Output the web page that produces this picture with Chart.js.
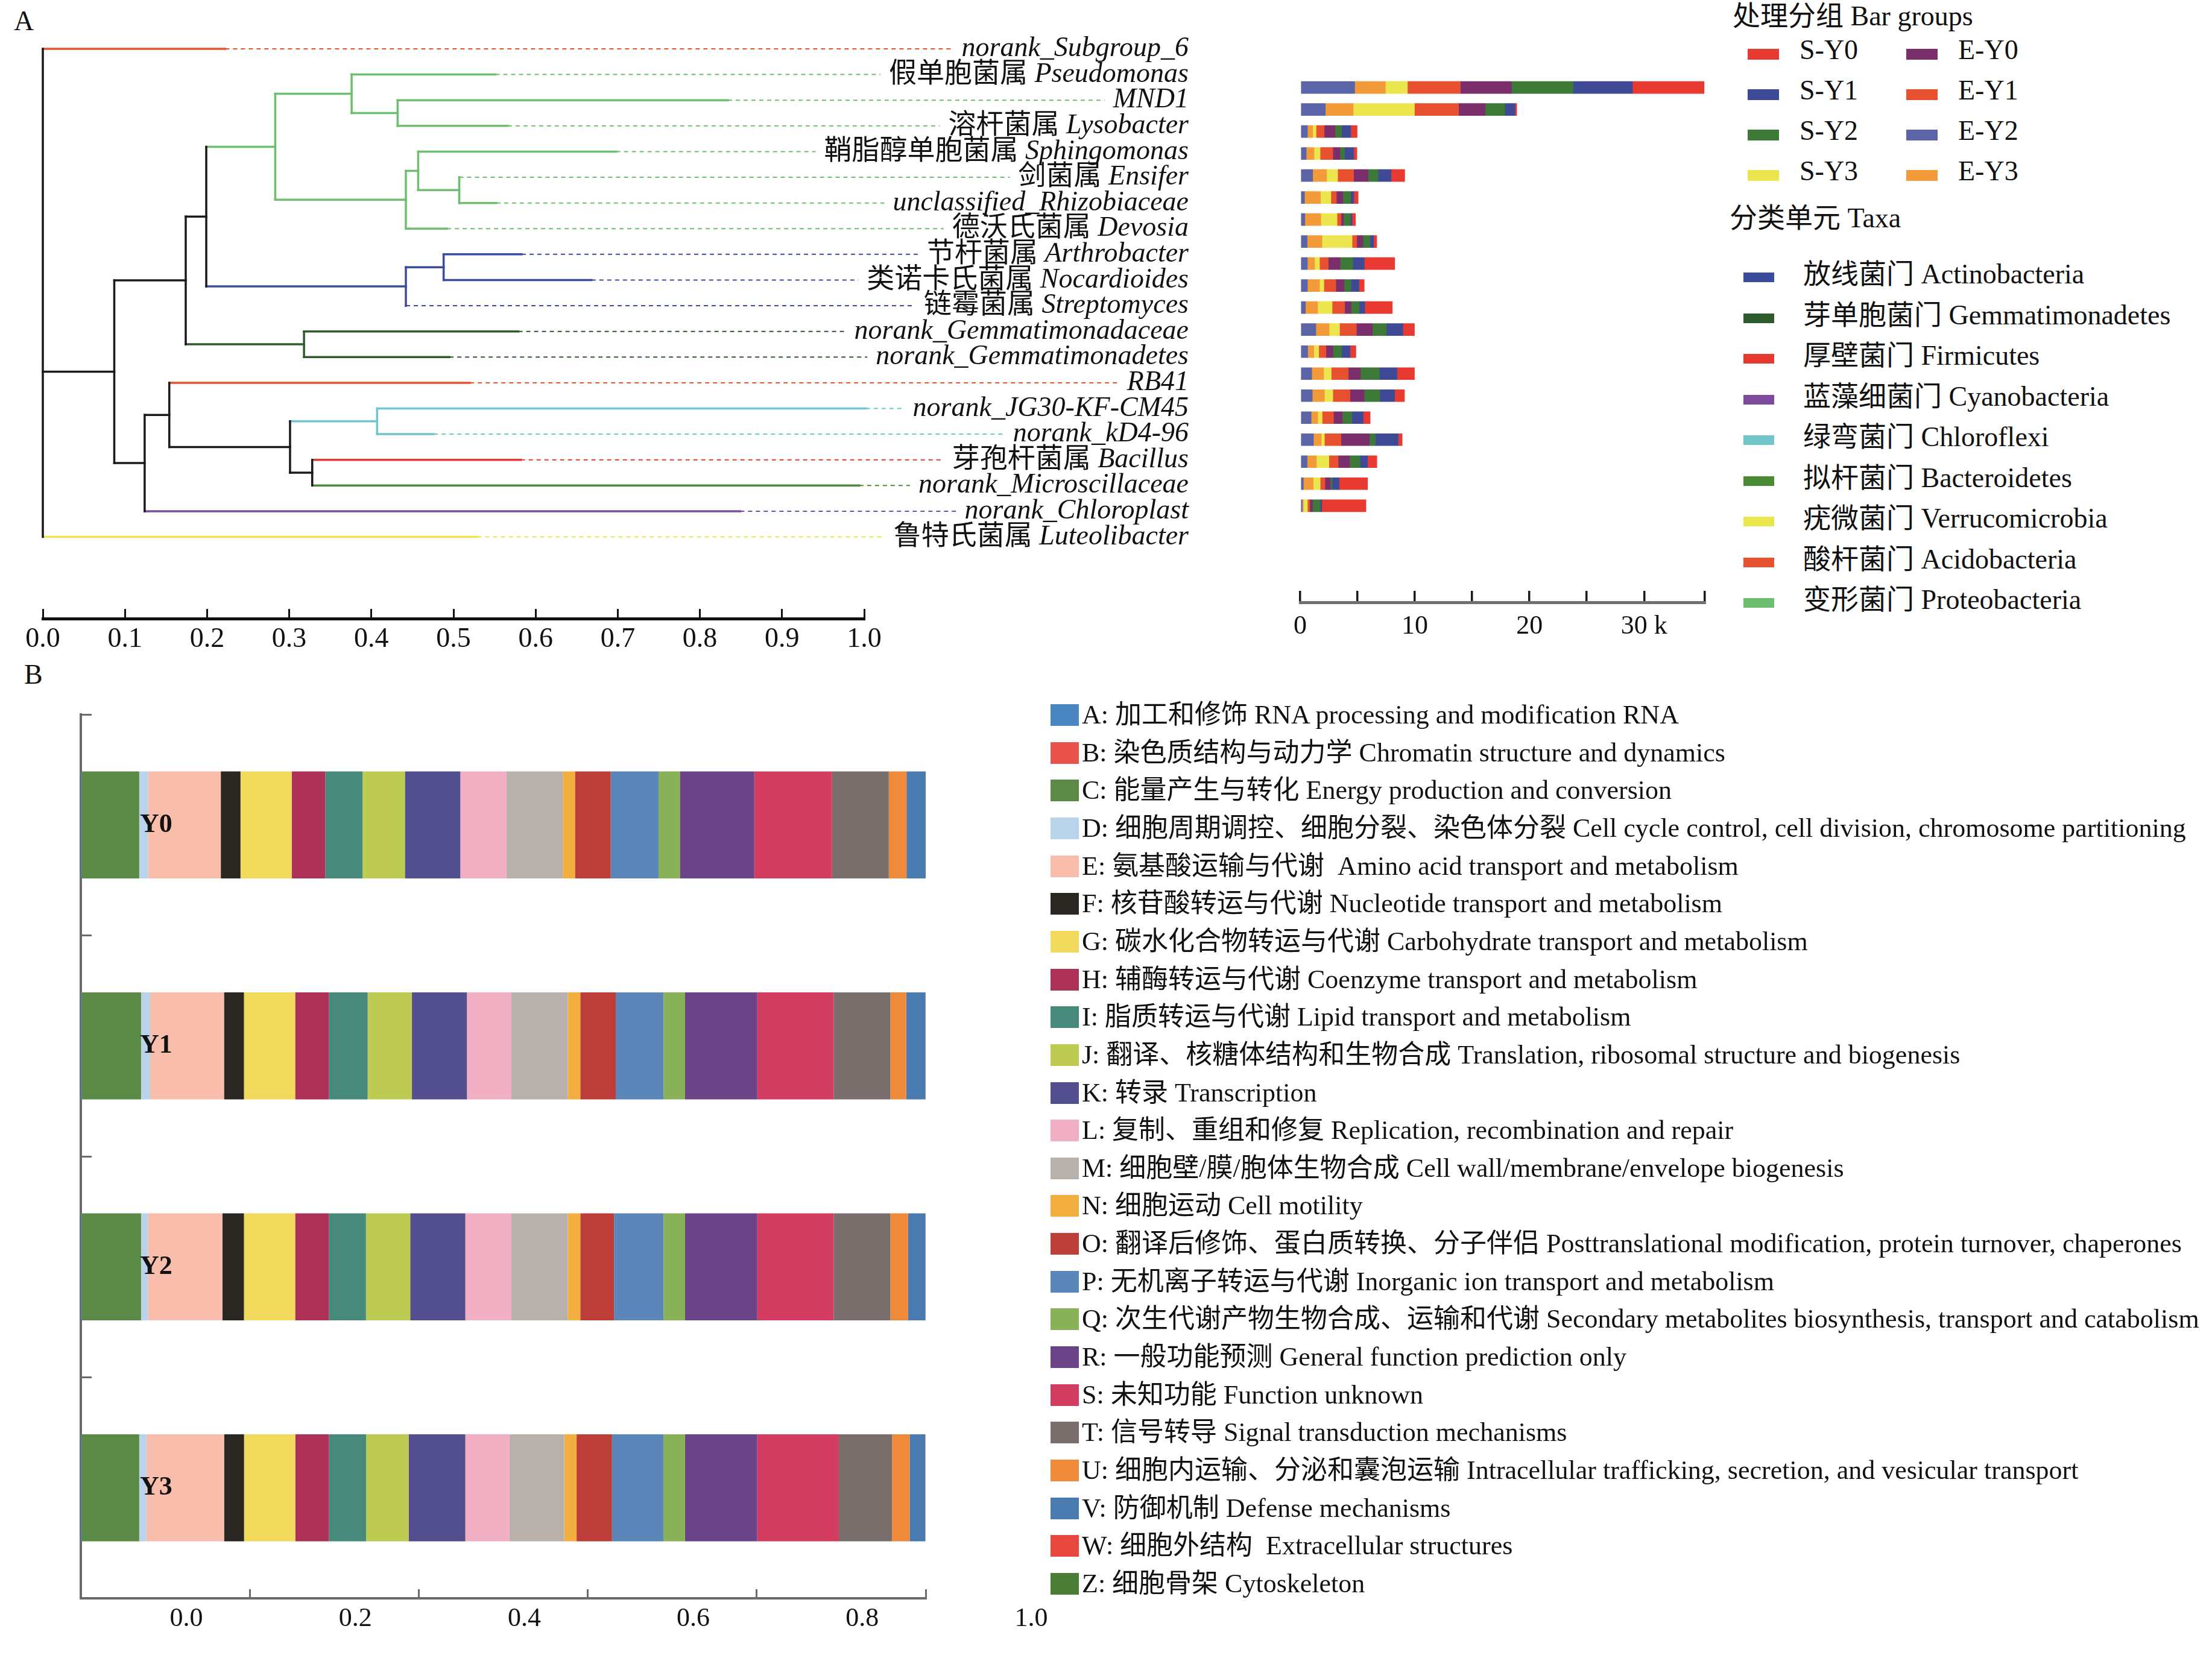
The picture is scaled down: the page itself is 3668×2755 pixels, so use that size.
<!DOCTYPE html>
<html lang="zh">
<head>
<meta charset="utf-8">
<title>Dendrogram, abundance and COG chart</title>
<script src="https://cdn.jsdelivr.net/npm/chart.js@4.4.1/dist/chart.umd.min.js"></script>
<style>
  html, body { margin: 0; padding: 0; background: #fff; }
  body { position: relative; width: 3668px; height: 2755px; overflow: hidden;
         font-family: "Liberation Serif", "Noto Sans CJK SC", serif; color: #111; }
  .box { position: absolute; }
  .tag { position: absolute; font-size: 46px; line-height: 1; }
  .row { position: absolute; display: flex; align-items: center; height: 50px; line-height: 50px; white-space: pre; }
  .row .sw { display: inline-block; flex: none; position: relative; }
  .title { position: absolute; height: 50px; line-height: 50px; white-space: pre; font-size: 46px; }
</style>
</head>
<body>
<div class="tag" style="left:23px;top:12px">A</div>
<div class="tag" style="left:40px;top:1096px">B</div>
<div class="box" style="left:0;top:0;width:2000px;height:1100px"><canvas id="dendro"></canvas></div>
<div class="box" style="left:2100px;top:0;width:760px;height:1100px"><canvas id="abund"></canvas></div>
<div class="box" style="left:0;top:1100px;width:1800px;height:1655px"><canvas id="cog"></canvas></div>
<div id="legendTop"></div>
<div id="legendCog"></div>
<script>
// leaves of the tree (top to bottom)
const leafCn = ['', '假单胞菌属', '', '溶杆菌属', '鞘脂醇单胞菌属', '剑菌属', '', '德沃氏菌属', '节杆菌属', '类诺卡氏菌属',
  '链霉菌属', '', '', '', '', '', '芽孢杆菌属', '', '', '鲁特氏菌属'];
const leafLatin = ['norank_Subgroup_6', 'Pseudomonas', 'MND1', 'Lysobacter', 'Sphingomonas', 'Ensifer',
  'unclassified_Rhizobiaceae', 'Devosia', 'Arthrobacter', 'Nocardioides', 'Streptomyces', 'norank_Gemmatimonadaceae',
  'norank_Gemmatimonadetes', 'RB41', 'norank_JG30-KF-CM45', 'norank_kD4-96', 'Bacillus', 'norank_Microscillaceae',
  'norank_Chloroplast', 'Luteolibacter'];
const leafPhylum = [7, 8, 8, 8, 8, 8, 8, 8, 0, 0, 0, 1, 1, 7, 4, 4, 2, 5, 3, 6];
const leafDist = [0.222, 0.551, 0.834, 0.566, 0.698, 0.507, 0.552, 0.492, 0.583, 0.668,
  0.442, 0.579, 0.495, 0.520, 1.002, 0.476, 0.582, 0.994, 0.849, 0.529];

// internal nodes of the tree
const nodeIds = ['root', 'n1', 'n2', 'n3', 'n4', 'n5', 'n6', 'n7', 'n8', 'n9', 'n10', 'n11', 'n12', 'n13', 'n14', 'n15', 'n16', 'n17'];
const nodeDist = [0.000, 0.087, 0.174, 0.124, 0.199, 0.318, 0.283, 0.442, 0.376, 0.442, 0.432, 0.457, 0.507, 0.488, 0.154, 0.301, 0.407, 0.328];
const nodeKids = [[0, 'n1', 19], ['n2', 'n3'], ['n4', 'n5'], ['n14', 18], ['n6', 'n7'], [11, 12], ['n8', 'n9'], ['n13', 10],
  [1, 'n10'], ['n11', 7], [2, 3], [4, 'n12'], [5, 6], [8, 9], [13, 'n15'], ['n16', 'n17'], [14, 15], [16, 17]];
const distTicks = [0, 0.1, 0.2, 0.3, 0.4, 0.5, 0.6, 0.7, 0.8, 0.9, 1.0];

const taxaCn = ['放线菌门', '芽单胞菌门', '厚壁菌门', '蓝藻细菌门', '绿弯菌门', '拟杆菌门', '疣微菌门', '酸杆菌门', '变形菌门'];
const taxaEn = ['Actinobacteria', 'Gemmatimonadetes', 'Firmicutes', 'Cyanobacteria', 'Chloroflexi', 'Bacteroidetes',
  'Verrucomicrobia', 'Acidobacteria', 'Proteobacteria'];
const taxaColors = ['#3c4c9c', '#2f5a2b', '#e63a30', '#7d4a9e', '#70c6cb', '#4d8a35', '#e9e74b', '#e8532f', '#6dbf6f'];

// abundance per bar group (thousands of reads), one value per leaf
const groups = ['S-Y0', 'S-Y1', 'S-Y2', 'S-Y3', 'E-Y0', 'E-Y1', 'E-Y2', 'E-Y3'];
const groupColors = ['#e83a30', '#3f4a96', '#3e7a37', '#ebe64d', '#7b2e6c', '#e8512f', '#5b64a6', '#f39b3b'];
const stackOrder = ['E-Y2', 'E-Y3', 'S-Y3', 'E-Y1', 'E-Y0', 'S-Y2', 'S-Y1', 'S-Y0'];
const countsSY0 = [6.25, 0.15, 0.56, 0.28, 1.19, 0.38, 0.30, 0.28, 2.66, 0.46, 2.41, 1.01, 0.51, 1.52, 0.86, 0.61, 0.35, 0.81, 2.48, 3.85];
const countsSY1 = [5.19, 0.89, 0.81, 0.81, 1.14, 0.28, 0.15, 0.30, 1.01, 0.71, 0.48, 1.44, 0.73, 1.54, 1.29, 0.99, 2.00, 0.66, 0.61, 0.15];
const countsSY2 = [5.37, 1.70, 0.56, 0.38, 0.86, 0.68, 0.61, 0.63, 1.09, 0.58, 0.71, 1.22, 0.76, 1.65, 1.37, 0.84, 0.51, 0.91, 0.15, 0.66];
const countsSY3 = [1.92, 5.34, 0.30, 0.53, 0.96, 0.91, 1.42, 2.63, 0.43, 0.38, 1.27, 0.91, 0.43, 0.66, 0.73, 0.38, 0.28, 1.09, 0.61, 0.35];
const countsEY0 = [4.46, 2.33, 0.94, 0.63, 1.27, 0.56, 0.20, 0.53, 1.04, 0.73, 0.56, 1.39, 0.61, 1.06, 1.24, 0.76, 2.48, 0.99, 0.48, 0.25];
const countsEY1 = [4.61, 3.85, 0.71, 1.11, 1.39, 0.48, 0.35, 0.41, 0.76, 1.04, 1.09, 1.47, 0.63, 1.49, 1.49, 0.99, 1.44, 0.81, 0.41, 0.20];
const countsEY2 = [4.76, 2.20, 0.63, 0.53, 1.09, 0.38, 0.41, 0.61, 0.63, 0.63, 0.46, 1.37, 0.66, 1.01, 1.06, 0.96, 1.16, 0.61, 0.28, 0.18];
const countsEY3 = [2.68, 2.43, 0.46, 0.68, 1.22, 1.39, 1.39, 1.29, 0.63, 1.06, 1.06, 1.16, 0.53, 1.04, 1.06, 0.58, 0.68, 0.81, 0.86, 0.10];
const groupCounts = [countsSY0, countsSY1, countsSY2, countsSY3, countsEY0, countsEY1, countsEY2, countsEY3];

// COG functional categories, share of each year
const years = ['Y0', 'Y1', 'Y2', 'Y3'];
const cogCodes = ['A', 'B', 'C', 'D', 'E', 'F', 'G', 'H', 'I', 'J', 'K', 'L', 'M', 'N', 'O', 'P', 'Q', 'R', 'S', 'T', 'U', 'V', 'W', 'Z'];
const cogCn = ['加工和修饰', '染色质结构与动力学', '能量产生与转化', '细胞周期调控、细胞分裂、染色体分裂', '氨基酸运输与代谢 ',
  '核苷酸转运与代谢', '碳水化合物转运与代谢', '辅酶转运与代谢', '脂质转运与代谢', '翻译、核糖体结构和生物合成', '转录',
  '复制、重组和修复', '细胞壁/膜/胞体生物合成', '细胞运动', '翻译后修饰、蛋白质转换、分子伴侣', '无机离子转运与代谢',
  '次生代谢产物生物合成、运输和代谢', '一般功能预测', '未知功能', '信号转导', '细胞内运输、分泌和囊泡运输', '防御机制',
  '细胞外结构 ', '细胞骨架'];
const cogEn = ['RNA processing and modification RNA', 'Chromatin structure and dynamics', 'Energy production and conversion',
  'Cell cycle control, cell division, chromosome partitioning', 'Amino acid transport and metabolism',
  'Nucleotide transport and metabolism', 'Carbohydrate transport and metabolism', 'Coenzyme transport and metabolism',
  'Lipid transport and metabolism', 'Translation, ribosomal structure and biogenesis', 'Transcription',
  'Replication, recombination and repair', 'Cell wall/membrane/envelope biogenesis', 'Cell motility',
  'Posttranslational modification, protein turnover, chaperones', 'Inorganic ion transport and metabolism',
  'Secondary metabolites biosynthesis, transport and catabolism', 'General function prediction only', 'Function unknown',
  'Signal transduction mechanisms', 'Intracellular trafficking, secretion, and vesicular transport', 'Defense mechanisms',
  'Extracellular structures', 'Cytoskeleton'];
const cogColors = ['#4a86c0', '#e9534b', '#5a8a45', '#b9d3ea', '#f8bdab', '#2a2622', '#f1da5b', '#ad3157', '#47897a', '#bdcb53',
  '#534f8e', '#f1afc4', '#b8b0ab', '#f2ae3e', '#bd3e39', '#5b86b9', '#89b157', '#6b4487', '#d33d62', '#796e6c', '#f08a3b',
  '#4a7bb0', '#e8473f', '#4a7d36'];
const shareY0 = [0.0002, 0.0001, 0.0688, 0.0105, 0.0861, 0.0233, 0.0606, 0.0397, 0.0442, 0.0501, 0.0656, 0.0545,
  0.0668, 0.0144, 0.0423, 0.0566, 0.0252, 0.0881, 0.0921, 0.0671, 0.0210, 0.0230, 0.0002, 0.0001];
const shareY1 = [0.0002, 0.0001, 0.0710, 0.0108, 0.0874, 0.0236, 0.0606, 0.0399, 0.0459, 0.0524, 0.0651, 0.0526,
  0.0668, 0.0148, 0.0419, 0.0566, 0.0255, 0.0855, 0.0904, 0.0671, 0.0187, 0.0228, 0.0002, 0.0001];
const shareY2 = [0.0002, 0.0001, 0.0710, 0.0082, 0.0881, 0.0255, 0.0606, 0.0399, 0.0439, 0.0524, 0.0652, 0.0545,
  0.0668, 0.0148, 0.0399, 0.0586, 0.0255, 0.0855, 0.0904, 0.0671, 0.0210, 0.0205, 0.0002, 0.0001];
const shareY3 = [0.0002, 0.0001, 0.0688, 0.0085, 0.0920, 0.0236, 0.0606, 0.0399, 0.0439, 0.0504, 0.0671, 0.0522,
  0.0648, 0.0147, 0.0419, 0.0609, 0.0255, 0.0855, 0.0966, 0.0629, 0.0209, 0.0185, 0.0002, 0.0001];
const yearShares = [shareY0, shareY1, shareY2, shareY3];
const shareTicks = [0, 0.2, 0.4, 0.6, 0.8, 1.0];

const SERIF = '"Liberation Serif", "Noto Sans CJK SC", serif';
const labelEdge = 1.395;   // where the leaf names end, in distance units

document.addEventListener('DOMContentLoaded', () => {
  Chart.defaults.font.family = SERIF;
  Chart.defaults.color = '#111';
  Chart.defaults.animation = false;
  Chart.defaults.plugins.legend.display = false;
  Chart.defaults.plugins.tooltip.enabled = false;

  // ---------- A: tree ----------
  const nodeY = {};
  const yOf = k => {
    if (typeof k === 'number') return k;
    if (nodeY[k] === undefined) {
      const ys = nodeKids[nodeIds.indexOf(k)].map(yOf);
      nodeY[k] = (Math.min(...ys) + Math.max(...ys)) / 2;
    }
    return nodeY[k];
  };
  const distOf = k => typeof k === 'number' ? leafDist[k] : nodeDist[nodeIds.indexOf(k)];
  const leavesUnder = k => typeof k === 'number' ? [k] : nodeKids[nodeIds.indexOf(k)].flatMap(leavesUnder);
  const cladeColor = k => {
    const ph = [...new Set(leavesUnder(k).map(l => leafPhylum[l]))];
    return ph.length === 1 ? taxaColors[ph[0]] : '#1a1a1a';
  };
  const line = (pts, color, extra) => Object.assign({
    data: pts.map(p => ({ x: p[0], y: p[1] })),
    showLine: true, borderColor: color, borderWidth: 3.5, pointRadius: 0,
    borderCapStyle: 'square', clip: false
  }, extra || {});

  const treeSets = [];
  nodeIds.forEach((id, i) => {
    const ys = nodeKids[i].map(yOf);
    treeSets.push(line([[nodeDist[i], Math.min(...ys)], [nodeDist[i], Math.max(...ys)]], cladeColor(id)));
    nodeKids[i].forEach(k => {
      treeSets.push(line([[nodeDist[i], yOf(k)], [distOf(k), yOf(k)]], cladeColor(k)));
    });
  });
  leafDist.forEach((d, l) => {
    treeSets.push(line([[d, l], [labelEdge, l]], taxaColors[leafPhylum[l]],
      { borderWidth: 2, borderDash: [7, 6], borderCapStyle: 'butt' }));
  });

  const leafNames = {
    id: 'leafNames',
    afterDatasetsDraw(chart) {
      const { ctx, scales: { x, y } } = chart;
      const right = x.getPixelForValue(labelEdge);
      const italic = 'italic 46px ' + SERIF;
      const upright = '46px ' + SERIF;
      ctx.save();
      ctx.textBaseline = 'middle';
      ctx.textAlign = 'right';
      const boxes = leafLatin.map((latin, i) => {
        ctx.font = italic;
        const wl = ctx.measureText(latin).width;
        ctx.font = upright;
        const cn = leafCn[i] ? leafCn[i] + ' ' : '';
        const wc = ctx.measureText(cn).width;
        return { latin, cn, wl, wc, py: y.getPixelForValue(i) };
      });
      ctx.fillStyle = '#fff';
      boxes.forEach(b => ctx.fillRect(right - b.wl - b.wc - 14, b.py - 19, b.wl + b.wc + 16, 38));
      ctx.fillStyle = '#111';
      boxes.forEach(b => {
        ctx.font = upright;
        if (b.cn) ctx.fillText(b.cn, right - b.wl, b.py);
        ctx.font = italic;
        ctx.fillText(b.latin, right, b.py);
      });
      ctx.restore();
    }
  };

  new Chart(document.querySelector('#dendro'), {
    type: 'scatter',
    data: { datasets: treeSets },
    options: {
      responsive: true,
      maintainAspectRatio: false,
      layout: { padding: { left: 71, right: 567, top: 59.7, bottom: 14 } },
      scales: {
        x: {
          type: 'linear', min: 0, max: 1,
          afterBuildTicks: s => { s.ticks = distTicks.map(v => ({ value: v })); },
          afterFit: s => { s.height = 60; },
          ticks: { callback: v => Number(v).toFixed(1), font: { size: 46 }, padding: 23, maxRotation: 0, autoSkip: false },
          grid: { drawOnChartArea: false, tickLength: -16, color: '#111', lineWidth: 3 },
          border: { color: '#111', width: 5 }
        },
        y: { type: 'linear', reverse: true, min: -0.5, max: 22.18, display: false }
      }
    },
    plugins: [leafNames]
  });

  // ---------- A: stacked abundance bars ----------
  const abundSets = stackOrder.map(g => {
    const k = groups.indexOf(g);
    return {
      label: g,
      data: groupCounts[k].map((v, i) => ({ x: v, y: i })),
      backgroundColor: groupColors[k],
      borderWidth: 0,
      barThickness: 20
    };
  });

  new Chart(document.querySelector('#abund'), {
    type: 'bar',
    data: { datasets: abundSets },
    options: {
      indexAxis: 'y',
      responsive: true,
      maintainAspectRatio: false,
      layout: { padding: { left: 56, right: 28, top: 59.7, bottom: 21 } },
      scales: {
        x: {
          type: 'linear', stacked: true, min: 0, max: 35.3,
          afterFit: s => { s.height = 80; },
          ticks: {
            stepSize: 5, font: { size: 44 }, padding: 33, maxRotation: 0, autoSkip: false,
            callback: v => (v % 10 === 0 ? (v === 30 ? '30 k' : String(v)) : '')
          },
          grid: { drawOnChartArea: false, tickLength: -19, color: '#1a1a1a', lineWidth: 3.5 },
          border: { color: '#707070', width: 5 }
        },
        y: { type: 'linear', stacked: true, reverse: true, min: -0.5, max: 21.55, display: false }
      }
    }
  });

  // ---------- B: COG composition ----------
  const cogSets = cogCodes.map((c, k) => ({
    label: c,
    data: yearShares.map(arr => arr[k]),
    backgroundColor: cogColors[k],
    borderWidth: 0,
    barPercentage: 0.484,
    categoryPercentage: 1
  }));

  new Chart(document.querySelector('#cog'), {
    type: 'bar',
    data: { labels: years, datasets: cogSets },
    options: {
      indexAxis: 'y',
      responsive: true,
      maintainAspectRatio: false,
      layout: { padding: { left: 114, right: 265, top: 85, bottom: 14 } },
      scales: {
        x: {
          type: 'linear', stacked: true, min: 0, max: 1,
          afterBuildTicks: s => { s.ticks = shareTicks.map(v => ({ value: v })); },
          afterFit: s => { s.height = 90; },
          ticks: { callback: v => Number(v).toFixed(1), font: { size: 44 }, padding: 22.6, labelOffset: 175, maxRotation: 0, autoSkip: false },
          grid: { drawOnChartArea: false, tickLength: -15, color: '#6b6b6b', lineWidth: 3 },
          border: { color: '#6b6b6b', width: 4 }
        },
        y: {
          stacked: true, offset: true,
          afterFit: s => { s.width = 20; s.paddingTop = 0; s.paddingBottom = 0; },
          ticks: { mirror: true, padding: 98, z: 1, font: { size: 44, weight: 'bold' }, color: '#111' },
          grid: { offset: true, drawOnChartArea: false, tickLength: -18, color: '#6b6b6b', lineWidth: 3 },
          border: { color: '#6b6b6b', width: 4 }
        }
      }
    }
  });

  // ---------- legends ----------
  const addRow = (parent, left, cy, swW, swH, swDrop, color, html, gap, size) => {
    const row = document.createElement('div');
    row.className = 'row';
    row.style.left = left + 'px';
    row.style.top = (cy - 25) + 'px';
    row.style.fontSize = size + 'px';
    row.innerHTML = `<span class="sw" style="width:${swW}px;height:${swH}px;top:${swDrop}px;background:${color};margin-right:${gap}px"></span><span>${html}</span>`;
    parent.appendChild(row);
  };
  const addTitle = (parent, left, cy, text) => {
    const t = document.createElement('div');
    t.className = 'title';
    t.style.left = left + 'px';
    t.style.top = (cy - 25) + 'px';
    t.textContent = text;
    parent.appendChild(t);
  };

  const legendTop = document.querySelector('#legendTop');
  addTitle(legendTop, 2873, 27, '处理分组 Bar groups');
  groups.forEach((g, k) => {
    const col = k < 4 ? 0 : 1;
    addRow(legendTop, col ? 3161 : 2898, 83 + 67 * (k % 4), 52, 18, 7, groupColors[k], g, 34, 46);
  });
  addTitle(legendTop, 2868, 362, '分类单元 Taxa');
  taxaEn.forEach((name, i) => {
    addRow(legendTop, 2891, 455 + 67.5 * i, 51, 16, 5, taxaColors[i], taxaCn[i] + ' ' + name, 48, 46);
  });

  const legendCog = document.querySelector('#legendCog');
  cogCodes.forEach((c, k) => {
    addRow(legendCog, 1742, 1186 + 62.65 * k, 47, 36, 0, cogColors[k], c + ': ' + cogCn[k] + ' ' + cogEn[k], 5, 44);
  });
});
</script>
</body>
</html>
